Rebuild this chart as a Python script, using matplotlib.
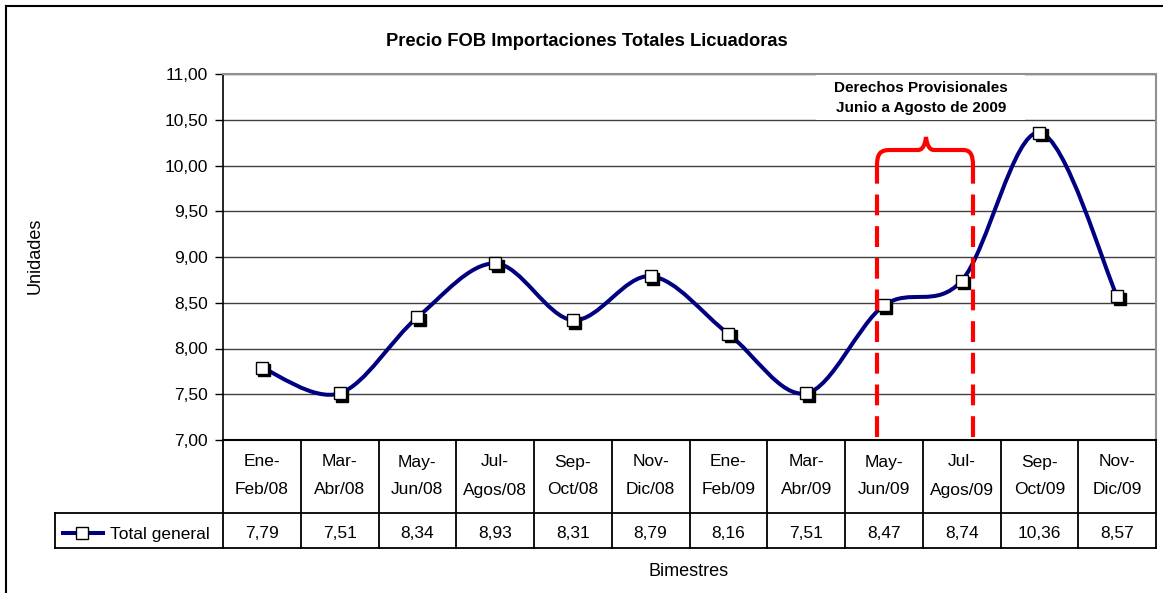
import numpy as np
import matplotlib
matplotlib.use("Agg")
import matplotlib.pyplot as plt
from matplotlib import transforms
from matplotlib.path import Path
from matplotlib.patches import PathPatch, Rectangle
from matplotlib.lines import Line2D

plt.rcParams['font.family'] = ['Liberation Sans', 'DejaVu Sans']

# Datos
bimestres_l1 = ["Ene-", "Mar-", "May-", "Jul-", "Sep-", "Nov-",
                "Ene-", "Mar-", "May-", "Jul-", "Sep-", "Nov-"]
bimestres_l2 = ["Feb/08", "Abr/08", "Jun/08", "Agos/08", "Oct/08", "Dic/08",
                "Feb/09", "Abr/09", "Jun/09", "Agos/09", "Oct/09", "Dic/09"]
total_general = [7.79, 7.51, 8.34, 8.93, 8.31, 8.79, 8.16, 7.51, 8.47, 8.74, 10.36, 8.57]
y_ticks = [7.0, 7.5, 8.0, 8.5, 9.0, 9.5, 10.0, 10.5, 11.0]

W, H = 1163, 593
fig = plt.figure(figsize=(W / 100, H / 100), dpi=100)

# area del grafico en pixeles
L, R, T, B = 223, 1156, 74, 440
ax = fig.add_axes([L / W, 1 - B / H, (R - L) / W, (B - T) / H])
n = len(total_general)
ax.set_xlim(-0.5, n - 0.5)
ax.set_ylim(7, 11)

for v in y_ticks:
    ax.axhline(v, color='#404040', lw=1.0, zorder=1)
ax.set_xticks([])
ax.set_yticks(y_ticks)
ax.set_yticklabels([f"{v:.2f}".replace(".", ",") for v in y_ticks], fontsize=12.5)
ax.tick_params(axis='y', length=6, width=1, pad=5)
for s in ['top', 'right']:
    ax.spines[s].set_color('#909090')
    ax.spines[s].set_linewidth(1.5)
ax.spines['left'].set_linewidth(1.2)
ax.spines['bottom'].set_linewidth(1.5)

# curva suavizada tipo Excel (Bezier)
x = np.arange(n, dtype=float)
y = np.array(total_general)
pts = np.column_stack([x, y])
verts = [tuple(pts[0])]
codes = [Path.MOVETO]
for i in range(n - 1):
    p0 = pts[max(i - 1, 0)]
    p1 = pts[i]
    p2 = pts[i + 1]
    p3 = pts[min(i + 2, n - 1)]
    c1 = p1 + (p2 - p0) / 6
    c2 = p2 - (p3 - p1) / 6
    verts += [tuple(c1), tuple(c2), tuple(p2)]
    codes += [Path.CURVE4] * 3
ax.add_patch(PathPatch(Path(verts, codes), facecolor='none', edgecolor='#000080',
                       lw=2.9, zorder=3, capstyle='round'))

shadow = transforms.offset_copy(ax.transData, fig=fig, x=2.5, y=-2.5, units='dots')
ax.plot(x, y, ls='none', marker='s', ms=9, mfc='black', mec='black', transform=shadow, zorder=4)
ax.plot(x, y, ls='none', marker='s', ms=9, mfc='white', mec='black', mew=1.0, zorder=5)

# lineas rojas y llave
def px2d(px, py):
    return ((px - L) / ((R - L) / n) - 0.5, 7 + (B - py) * 4 / (B - T))

for xl in [7.91, 9.14]:
    ax.plot([xl, xl], [7.03, 10.0], color='#ff0000', lw=3, dashes=(5, 2.6), zorder=6)

brace_px = [(877, 166), (877, 154), (880, 150), (890, 150),
            (918, 150), (922, 150), (925, 146), (926, 137),
            (927, 146), (930, 150), (934, 150),
            (963, 150), (970, 150), (973, 154), (973, 166)]
brace_codes = [Path.MOVETO, Path.CURVE4, Path.CURVE4, Path.CURVE4,
               Path.LINETO, Path.CURVE4, Path.CURVE4, Path.CURVE4,
               Path.CURVE4, Path.CURVE4, Path.CURVE4,
               Path.LINETO, Path.CURVE4, Path.CURVE4, Path.CURVE4]
ax.add_patch(PathPatch(Path([px2d(*p) for p in brace_px], brace_codes),
                       facecolor='none', edgecolor='#ff0000', lw=3, zorder=6,
                       clip_on=False))

# cuadro de texto
x0, y0 = px2d(816, 120)
x1, y1 = px2d(1025, 75)
ax.add_patch(Rectangle((x0, y0), x1 - x0, y1 - y0, facecolor='white', edgecolor='none',
                       zorder=6.5, clip_on=False))
bx, by = px2d(921, 98)
ax.text(bx, by, "Derechos Provisionales\nJunio a Agosto de 2009", ha='center', va='center',
        fontsize=11, fontweight='bold', linespacing=1.55, zorder=7)

# tabla de datos
def fy(py):
    return 1 - py / H

def fx(px):
    return px / W

lw_t = 1.3
row1, row2 = 513, 548
colw = (R - L) / n
for i in range(n + 1):
    xp = L + i * colw
    fig.add_artist(Line2D([fx(xp), fx(xp)], [fy(B), fy(row2)], color='black', lw=lw_t))
fig.add_artist(Line2D([fx(55), fx(R)], [fy(row1), fy(row1)], color='black', lw=lw_t))
fig.add_artist(Line2D([fx(55), fx(R)], [fy(row2), fy(row2)], color='black', lw=lw_t))
fig.add_artist(Line2D([fx(55), fx(55)], [fy(row1), fy(row2)], color='black', lw=lw_t))

for i in range(n):
    cx = fx(L + (i + 0.5) * colw)
    fig.text(cx, fy(462), bimestres_l1[i], ha='center', va='center', fontsize=12.5)
    fig.text(cx, fy(490), bimestres_l2[i], ha='center', va='center', fontsize=12.5)
    fig.text(cx, fy(534), f"{total_general[i]:.2f}".replace(".", ","),
             ha='center', va='center', fontsize=12.5)

# leyenda en la tabla
fig.add_artist(Line2D([fx(63), fx(103)], [fy(533), fy(533)], color='#000080', lw=2.9))
fig.add_artist(Line2D([fx(82)], [fy(533)], marker='s', ms=9, mfc='white', mec='black', ls='none'))
fig.text(fx(110), fy(534), "Total general", ha='left', va='center', fontsize=12.5)

# titulos
fig.text(fx(587), fy(42), "Precio FOB Importaciones Totales Licuadoras", ha='center', va='center',
         fontsize=13.2, fontweight='bold')
fig.text(fx(35), fy(256), "Unidades", ha='center', va='center', rotation=90, fontsize=13)
fig.text(fx(689), fy(572), "Bimestres", ha='center', va='center', fontsize=13)

# borde exterior
fig.add_artist(Line2D([fx(6), fx(W + 2)], [fy(6), fy(6)], color='black', lw=1.5))
fig.add_artist(Line2D([fx(6), fx(6)], [fy(6), fy(H + 2)], color='black', lw=1.5))

fig.savefig("out.png", dpi=100)
